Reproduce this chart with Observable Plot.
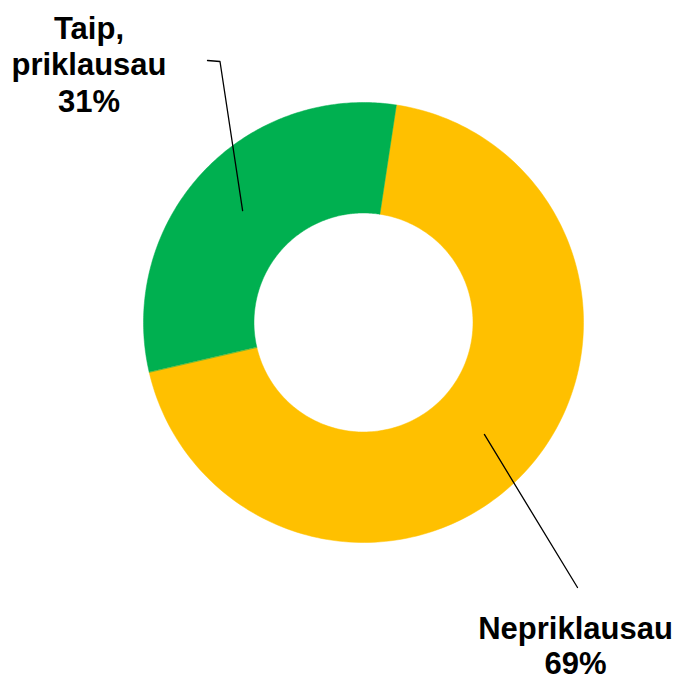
<!DOCTYPE html>
<html><head><meta charset="utf-8">
<script src="https://cdn.jsdelivr.net/npm/d3@7"></script>
<script src="https://cdn.jsdelivr.net/npm/@observablehq/plot@0.6"></script>
<style>body{margin:0;background:#fff}</style>
</head><body><div id="chart"></div>
<script>
// Data
const categories = ["Nepriklausau", "Taip, priklausau"];
const values = [69, 31];
const percentLabels = ["69%", "31%"];
const colors = ["#FFC000", "#00B050"];

// Layout (pixels)
const W = 681, H = 680, CX = 363, CY = 322, R_OUT = 220, R_IN = 109.5;
const startDeg = 8.6;
const labelLayout = [
  {text: "Nepriklausau\n69%", px: 575, py: 645, lh: 1.13, leader: [[577, 587]]},
  {text: "Taip,\npriklausau\n31%", px: 88.5, py: 63, lh: 1.18, leader: [[219.5, 61], [207, 60]]}
];

const ux = px => (px - CX) / R_OUT;
const uy = py => (CY - py) / R_OUT;
const rin = R_IN / R_OUT;

const pie = d3.pie().sort(null).startAngle(startDeg * Math.PI / 180).endAngle(startDeg * Math.PI / 180 + 2 * Math.PI);
const arcs = pie(values);

const poly = [];
arcs.forEach((a, i) => {
  const n = 180;
  for (let k = 0; k <= n; k++) {
    const t = a.startAngle + (a.endAngle - a.startAngle) * k / n;
    poly.push({name: categories[i], x: Math.sin(t), y: Math.cos(t)});
  }
  for (let k = n; k >= 0; k--) {
    const t = a.startAngle + (a.endAngle - a.startAngle) * k / n;
    poly.push({name: categories[i], x: rin * Math.sin(t), y: rin * Math.cos(t)});
  }
});

const leaders = [];
const texts = [];
arcs.forEach((a, i) => {
  const mid = (a.startAngle + a.endAngle) / 2;
  const rm = (1 + rin) / 2;
  const L = labelLayout[i];
  leaders.push({id: i, x: rm * Math.sin(mid), y: rm * Math.cos(mid)});
  L.leader.forEach(p => leaders.push({id: i, x: ux(p[0]), y: uy(p[1])}));
  texts.push({text: L.text, x: ux(L.px), y: uy(L.py), lh: L.lh});
});

const textMarks = texts.map(t => Plot.text([t], {x: "x", y: "y", text: "text", fontSize: 31, fontWeight: "bold", fontFamily: "Liberation Sans, Arial, sans-serif", fill: "#000", lineHeight: t.lh, textAnchor: "middle", lineAnchor: "middle"}));

const chart = Plot.plot({
  width: W, height: H,
  margin: 0,
  x: {domain: [ux(0), ux(W)], range: [0, W], axis: null},
  y: {domain: [uy(H), uy(0)], range: [H, 0], axis: null},
  color: {domain: categories, range: colors},
  style: {background: "#fff"},
  marks: [
    Plot.line(poly, {x: "x", y: "y", z: "name", fill: "name", stroke: "name", strokeWidth: 0.5, curve: "linear-closed"}),
    Plot.line(leaders, {x: "x", y: "y", z: "id", stroke: "#000", strokeWidth: 1.3}),
    ...textMarks
  ]
});
document.getElementById("chart").appendChild(chart);
</script>
</body></html>
